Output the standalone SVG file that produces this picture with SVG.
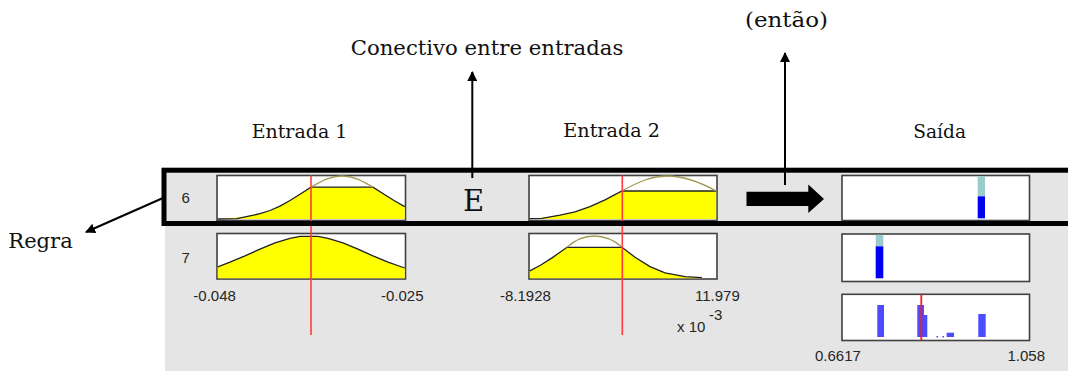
<svg xmlns="http://www.w3.org/2000/svg" width="1068" height="371" viewBox="0 0 1068 371">
<style>
.ttl{font-family:"DejaVu Serif","Liberation Serif",serif;fill:#111}
.num{font-family:"Liberation Sans",Arial,sans-serif;fill:#262626;font-size:15px}
.box{fill:#fff;stroke:#404040;stroke-width:1.6}
.mf{fill:#ffff00;stroke:none}
.mfl{fill:none;stroke:#222;stroke-width:1.3}
.olv{fill:none;stroke:#a09a55;stroke-width:1.3}
.red{stroke:#ff3b3b;stroke-width:1.6}
.conn{stroke:#000;stroke-width:2;fill:none}
.tb{fill:#99cccc}
.bb{fill:#0000ee}
.ab{fill:#4c4cff}
</style>
<defs>
<marker id="ah" viewBox="0 0 10 10" refX="9" refY="5" markerWidth="5" markerHeight="5" orient="auto" markerUnits="strokeWidth">
<path d="M0,0 L10,5 L0,10 z" fill="#000"/>
</marker>
</defs>
<rect width="1068" height="371" fill="#fff"/>
<rect x="165" y="168" width="903" height="203" fill="#e5e5e5"/>

<g id="title-entrada1"><text class="ttl" x="251.7" y="138" font-size="19" textLength="95.6" lengthAdjust="spacingAndGlyphs">Entrada 1</text></g>
<g id="title-entrada2"><text class="ttl" x="563.3" y="137" font-size="19" textLength="96.7" lengthAdjust="spacingAndGlyphs">Entrada 2</text></g>
<g id="title-saida"><text class="ttl" x="913.3" y="138" font-size="19" textLength="52.7" lengthAdjust="spacingAndGlyphs">Saída</text></g>
<g id="label-conectivo"><text class="ttl" x="350.7" y="55" font-size="21" textLength="272.6" lengthAdjust="spacingAndGlyphs">Conectivo entre entradas</text></g>
<g id="label-entao"><text class="ttl" x="745" y="27" font-size="21" textLength="83" lengthAdjust="spacingAndGlyphs">(então)</text></g>
<g id="label-regra"><text class="ttl" x="8.3" y="248.3" font-size="21" textLength="64.4" lengthAdjust="spacingAndGlyphs">Regra</text></g>
<g id="label-E"><text class="ttl" x="463" y="211" font-size="29">E</text></g>

<g id="rule-numbers">
<text class="num" x="181.5" y="203">6</text>
<text class="num" x="181.5" y="263">7</text>
</g>

<g id="in1-r6">
<rect class="box" x="217" y="175.5" width="188.5" height="45"/>
<path class="mf" d="M217.8,219 L237,217.6 250,215.9 260,213.7 270,210.5 280,206.1 290,200.5 300,194.2 311,187.1 373,187.1 384,194.2 394,200.5 404.7,206.6 L404.7,219 Z"/>
<path class="mfl" d="M217.8,219 L237,218.6 250,215.9 260,213.7 270,210.5 280,206.1 290,200.5 300,194.2 311,187.1 373,187.1 384,194.2 394,200.5 404.7,206.6"/>
<path class="olv" d="M311,187.1 C322,181 330,176 342,176 C354,176 362,181 373,187.1"/>
</g>
<g id="in1-r7">
<rect class="box" x="217" y="233.5" width="188.5" height="45.5"/>
<path class="mf" d="M217.8,266.8 L230,262.2 245,255.9 260,249.1 275,242.9 290,238.3 300,236.3 318,236.3 328,238.3 343,242.9 358,249.1 373,255.9 388,262.2 404.7,268 L404.7,278.2 L217.8,278.2 Z"/>
<path class="mfl" d="M217.8,266.8 L230,262.2 245,255.9 260,249.1 275,242.9 290,238.3 300,236.3 318,236.3 328,238.3 343,242.9 358,249.1 373,255.9 388,262.2 404.7,268"/>
</g>
<g id="in1-axis">
<text class="num" x="193.3" y="301">-0.048</text>
<text class="num" x="381" y="301">-0.025</text>
</g>

<g id="in2-r6">
<rect class="box" x="529" y="175.5" width="188" height="45"/>
<path class="mf" d="M529.8,219 L542,217.4 560,215.2 575,211.9 590,206.7 605,199.9 622,191 716.2,191 L716.2,219 Z"/>
<path class="mfl" d="M529.8,218.6 L542,218.4 560,215.2 575,211.9 590,206.7 605,199.9 622,191 716.2,191"/>
<path class="olv" d="M622,191 C640,181 652,176 667,176 C682,176 698,181 716.2,191"/>
</g>
<g id="in2-r7">
<rect class="box" x="529" y="233.5" width="188" height="45.5"/>
<path class="mf" d="M529.8,270.8 L540,265.5 552,257.9 567,247.3 622,247.3 635,257.2 650,266.6 665,272.9 685,276.7 702,277.7 L702,278.2 L529.8,278.2 Z"/>
<path class="mfl" d="M529.8,270.8 L540,265.5 552,257.9 567,247.3 622,247.3 635,257.2 650,266.6 665,272.9 685,276.7 702,277.7"/>
<path class="olv" d="M567,247.3 C575,240 583,236 594,236 C605,236 614,240 622,247.3"/>
</g>
<g id="in2-axis">
<text class="num" x="500" y="301">-8.1928</text>
<text class="num" x="695" y="301">11.979</text>
<text class="num" x="677" y="332" font-size="14">x 10</text>
<text class="num" x="709" y="320" font-size="10">-3</text>
</g>

<g id="out-r6">
<rect class="box" x="842" y="175.5" width="187.5" height="45"/>
<rect class="tb" x="977.7" y="176.3" width="7.3" height="20"/>
<rect class="bb" x="977.7" y="196.3" width="7.3" height="22"/>
</g>
<g id="out-r7">
<rect class="box" x="842" y="234" width="187.5" height="47.5"/>
<rect class="tb" x="875.7" y="234.8" width="7.6" height="11.5"/>
<rect class="bb" x="875.7" y="246.3" width="7.6" height="32"/>
</g>
<g id="out-agg">
<rect class="box" x="842" y="294.3" width="187.5" height="46.2"/>
<rect class="ab" x="877.3" y="305" width="6.7" height="32"/>
<rect class="ab" x="917.3" y="305" width="6.7" height="32"/>
<rect class="ab" x="924" y="315" width="3.3" height="22"/>
<rect class="ab" x="936.5" y="336" width="1.5" height="1.5"/>
<rect class="ab" x="942.5" y="336" width="1.5" height="1.5"/>
<rect class="ab" x="946.7" y="332.7" width="7.3" height="4.3"/>
<rect class="ab" x="978.3" y="314" width="7.4" height="23"/>
<line x1="921.3" y1="294.3" x2="921.3" y2="340.5" stroke="#ff1a1a" stroke-width="1.8"/>
<text class="num" x="815" y="361" font-size="17">0.6617</text>
<text class="num" x="1007.5" y="361" font-size="17">1.058</text>
</g>

<g id="input-markers">
<line class="red" x1="311" y1="175.5" x2="311" y2="335"/>
<line class="red" x1="622.3" y1="175.5" x2="622.3" y2="335"/>
</g>

<g id="rule-highlight">
<rect x="164" y="170.2" width="920" height="53.3" fill="none" stroke="#000" stroke-width="5"/>
</g>

<g id="connectors">
<line class="conn" x1="163" y1="198" x2="86" y2="232" marker-end="url(#ah)"/>
<line class="conn" x1="472.3" y1="178" x2="472.3" y2="72" marker-end="url(#ah)"/>
<line class="conn" x1="785" y1="185" x2="785" y2="53" marker-end="url(#ah)"/>
<path d="M746.5,191.7 L808.3,191.7 L808.3,184.5 L824,199 L808.3,213 L808.3,206 L746.5,206 Z" fill="#000"/>
</g>
</svg>
